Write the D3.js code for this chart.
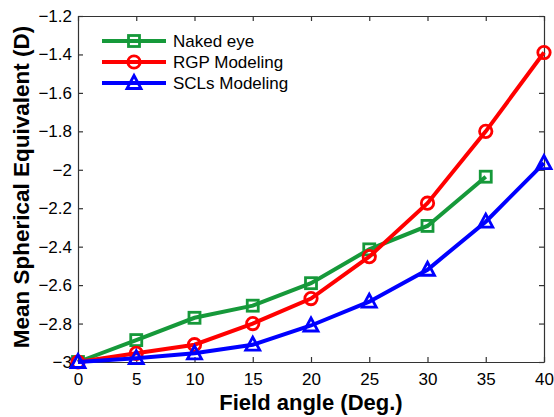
<!DOCTYPE html>
<html>
<head>
<meta charset="utf-8">
<script src="https://cdn.jsdelivr.net/npm/d3@7"></script>
<style>
body { margin: 0; background: #fff; }
svg { font-family: Arial, "Liberation Sans", sans-serif; }
</style>
</head>
<body>
<svg></svg>
<script>
const angles = [0, 5, 10, 15, 20, 25, 30, 35, 40];
const nakedEye = [-3, -2.886, -2.77, -2.707, -2.59, -2.414, -2.292, -2.036];
const rgpModeling = [-3, -2.955, -2.91, -2.80, -2.67, -2.452, -2.174, -1.80, -1.39];
const sclModeling = [-3, -2.98, -2.955, -2.91, -2.81, -2.686, -2.52, -2.27, -1.965];
const yTicks = [-3, -2.8, -2.6, -2.4, -2.2, -2, -1.8, -1.6, -1.4, -1.2];

const size = {w: 554, h: 417};
const margin = {t: 16, r: 10, b: 55, l: 78};
const svg = d3.select('svg').attr('width', size.w).attr('height', size.h);

const x = d3.scaleLinear().domain([0, 40]).range([margin.l, size.w - margin.r]);
const y = d3.scaleLinear().domain([-3, -1.2]).range([size.h - margin.b, margin.t]);

const series = [
    {name: 'Naked eye', values: nakedEye, color: '#16993a', marker: 'square'},
    {name: 'RGP Modeling', values: rgpModeling, color: '#ff0000', marker: 'circle'},
    {name: 'SCLs Modeling', values: sclModeling, color: '#0000ff', marker: 'triangle'}
];

//axes with box
const xAxis = svg.append('g').attr('transform', `translate(0,${y.range()[0]})`)
    .call(d3.axisBottom(x).tickValues(angles).tickSizeInner(-5).tickSizeOuter(0).tickPadding(11));
const xTop = svg.append('g').attr('transform', `translate(0,${margin.t})`)
    .call(d3.axisTop(x).tickValues(angles).tickSizeInner(-5).tickSizeOuter(0).tickFormat(''));
const yAxis = svg.append('g').attr('transform', `translate(${margin.l},0)`)
    .call(d3.axisLeft(y).tickValues(yTicks).tickSizeInner(-5).tickSizeOuter(0).tickPadding(6).tickFormat(d => d3.format('')(+d.toFixed(1))));
const yRight = svg.append('g').attr('transform', `translate(${x.range()[1]},0)`)
    .call(d3.axisRight(y).tickValues(yTicks).tickSizeInner(-5).tickSizeOuter(0).tickFormat(''));

[xAxis, xTop, yAxis, yRight].forEach(g => {
    g.selectAll('path, line').attr('stroke', '#333').attr('stroke-width', 1.2);
    g.selectAll('text').attr('font-size', 17).attr('fill', '#000').attr('font-family', 'Arial, "Liberation Sans", sans-serif');
});

svg.append('text').attr('x', (x.range()[0] + x.range()[1]) / 2).attr('y', 410)
    .attr('text-anchor', 'middle').attr('font-size', 22).attr('font-weight', 'bold')
    .text('Field angle (Deg.)');
svg.append('text').attr('transform', `translate(29,${(y.range()[0] + y.range()[1]) / 2 - 2}) rotate(-90)`)
    .attr('text-anchor', 'middle').attr('font-size', 22.5).attr('font-weight', 'bold')
    .text('Mean Spherical Equivalent (D)');

function drawMarker(g, type, cx, cy, color){
    if(type == 'square'){
        g.append('rect').attr('x', cx - 5.5).attr('y', cy - 5.5).attr('width', 11).attr('height', 11)
            .attr('fill', 'none').attr('stroke', color).attr('stroke-width', 2.8);
    }else if(type == 'circle'){
        g.append('circle').attr('cx', cx).attr('cy', cy).attr('r', 6.2)
            .attr('fill', 'none').attr('stroke', color).attr('stroke-width', 2.8);
    }else{
        g.append('path').attr('d', `M${cx},${cy - 7.5}L${cx + 7},${cy + 5.5}L${cx - 7},${cy + 5.5}Z`)
            .attr('fill', 'none').attr('stroke', color).attr('stroke-width', 2.8);
    }
}

const line = d3.line().x((d, i) => x(angles[i])).y(d => y(d));
const plotG = svg.append('g');
for(const s of series){
    plotG.append('path').attr('d', line(s.values)).attr('fill', 'none')
        .attr('stroke', s.color).attr('stroke-width', 4);
    s.values.forEach((v, i) => drawMarker(plotG, s.marker, x(angles[i]), y(v), s.color));
}

//legend
const legend = svg.append('g');
series.forEach((s, i) => {
    const ly = 41 + i * 21;
    legend.append('line').attr('x1', 102).attr('x2', 166).attr('y1', ly).attr('y2', ly)
        .attr('stroke', s.color).attr('stroke-width', 4);
    drawMarker(legend, s.marker, 134, ly, s.color);
    legend.append('text').attr('x', 173).attr('y', ly + 6).attr('font-size', 17).text(s.name);
});
</script>
</body>
</html>
